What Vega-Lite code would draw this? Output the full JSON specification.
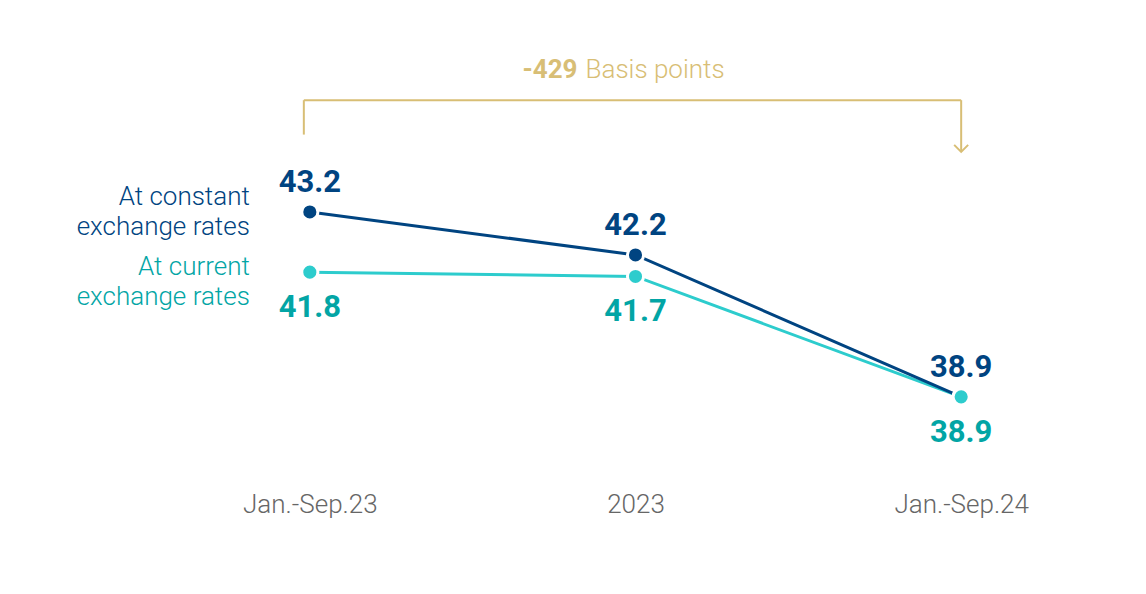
{
  "$schema": "https://vega.github.io/schema/vega-lite/v6.json",
  "autosize": {"type": "none"},
  "width": 977,
  "height": 485,
  "padding": {"left": 147, "top": 0, "right": 22, "bottom": 109},
  "background": "white",
  "config": {"view": {"stroke": null}, "font": "Roboto"},
  "datasets": {
    "main": [
      {"period": "Jan.-Sep.23", "series": "constant", "value": 43.2},
      {"period": "2023", "series": "constant", "value": 42.2},
      {"period": "Jan.-Sep.24", "series": "constant", "value": 38.9},
      {"period": "Jan.-Sep.23", "series": "current", "value": 41.8},
      {"period": "2023", "series": "current", "value": 41.7},
      {"period": "Jan.-Sep.24", "series": "current", "value": 38.9}
    ],
    "hrule": [{"period": "Jan.-Sep.23", "period2": "Jan.-Sep.24", "value": 45.8}],
    "vleft": [{"period": "Jan.-Sep.23", "value": 45.8, "value2": 45.0}],
    "vright": [{"period": "Jan.-Sep.24", "value": 45.8, "value2": 44.6}],
    "arrow": [{"period": "Jan.-Sep.24", "value": 44.68}],
    "bold": [{"period": "2023", "value": 46.5, "t": "-429"}],
    "light": [{"period": "2023", "value": 46.5, "t": "Basis points"}],
    "legc": [{"period": "Jan.-Sep.23", "value": 43.2, "label": "At constant \nexchange rates"}],
    "legr": [{"period": "Jan.-Sep.23", "value": 41.8, "label": "At current \nexchange rates"}]
  },
  "data": {"name": "main"},
  "encoding": {
    "x": {"field": "period", "type": "ordinal",
      "scale": {"type": "point", "domain": ["Jan.-Sep.23", "2023", "Jan.-Sep.24"], "padding": 0.5},
      "axis": {"title": null, "domain": false, "ticks": false, "labelAngle": 0, "labelFontSize": 26, "labelColor": "#666666", "labelFont": "Roboto", "labelFontWeight": 300, "labelPadding": 6}},
    "y": {"field": "value", "type": "quantitative", "scale": {"domain": [36.85, 48.13], "nice": false, "zero": false}, "axis": null}
  },
  "layer": [
    {"transform": [{"filter": "datum.series === 'current'"}], "mark": {"type": "line", "color": "#2DCCCD", "strokeWidth": 3}},
    {"transform": [{"filter": "datum.series === 'constant'"}], "mark": {"type": "line", "color": "#004481", "strokeWidth": 3}},
    {"transform": [{"filter": "datum.series === 'constant'"}], "mark": {"type": "point", "filled": true, "fill": "#004481", "stroke": "white", "strokeWidth": 3, "strokeOpacity": 1, "opacity": 1, "size": 260}},
    {"transform": [{"filter": "datum.series === 'current'"}], "mark": {"type": "point", "filled": true, "fill": "#2DCCCD", "stroke": "white", "strokeWidth": 3, "strokeOpacity": 1, "opacity": 1, "size": 260}},
    {"transform": [{"filter": "datum.series === 'constant'"}], "mark": {"type": "text", "dy": -29, "fontSize": 31, "fontWeight": "bold", "color": "#004481"}, "encoding": {"text": {"field": "value", "type": "quantitative", "format": ".1f"}}},
    {"transform": [{"filter": "datum.series === 'current'"}], "mark": {"type": "text", "dy": 36, "fontSize": 31, "fontWeight": "bold", "color": "#02A5A5"}, "encoding": {"text": {"field": "value", "type": "quantitative", "format": ".1f"}}},
    {"data": {"name": "legc"}, "mark": {"type": "text", "align": "right", "baseline": "middle", "dx": -60, "dy": -15, "fontSize": 26, "fontWeight": 300, "lineHeight": 30, "lineBreak": "\n", "color": "#004481"}, "encoding": {"text": {"field": "label"}}},
    {"data": {"name": "legr"}, "mark": {"type": "text", "align": "right", "baseline": "middle", "dx": -60, "dy": -5, "fontSize": 26, "fontWeight": 300, "lineHeight": 30, "lineBreak": "\n", "color": "#02A5A5"}, "encoding": {"text": {"field": "label"}}},
    {"data": {"name": "hrule"}, "mark": {"type": "rule", "color": "#D8BE75", "strokeWidth": 2, "xOffset": -6},
      "encoding": {"x2": {"field": "period2"}}},
    {"data": {"name": "vleft"}, "mark": {"type": "rule", "color": "#D8BE75", "strokeWidth": 2, "xOffset": -6},
      "encoding": {"y2": {"field": "value2"}}},
    {"data": {"name": "vright"}, "mark": {"type": "rule", "color": "#D8BE75", "strokeWidth": 2},
      "encoding": {"y2": {"field": "value2"}}},
    {"data": {"name": "arrow"}, "mark": {"type": "point", "shape": "M-1,-0.5L0,0.5L1,-0.5", "filled": false, "stroke": "#D8BE75", "strokeWidth": 2, "opacity": 1, "size": 196}},
    {"data": {"name": "bold"}, "mark": {"type": "text", "align": "right", "baseline": "middle", "dx": -58, "fontSize": 26, "fontWeight": "bold", "color": "#D8BE75"},
      "encoding": {"text": {"field": "t"}}},
    {"data": {"name": "light"}, "mark": {"type": "text", "align": "left", "baseline": "middle", "dx": -50, "fontSize": 26, "fontWeight": 300, "color": "#D8BE75"},
      "encoding": {"text": {"field": "t"}}}
  ]
}
